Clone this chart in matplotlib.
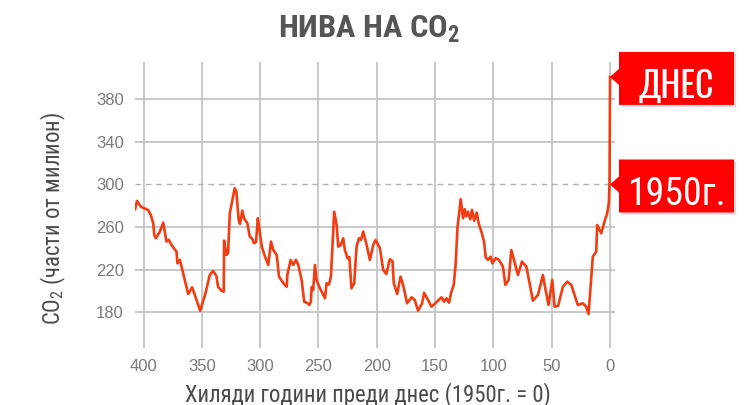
import matplotlib
matplotlib.use("Agg")
import matplotlib.pyplot as plt
import matplotlib.patches as mpatches
import matplotlib.transforms as mtransforms
import matplotlib.font_manager as fm
from matplotlib.textpath import TextPath
from matplotlib.font_manager import FontProperties

# ---- data (thousand years before 1950, CO2 ppm) ----
age_kyr = [407.2, 405.6, 402.2, 396.0, 393.7, 391.7, 390.8, 389.4, 386.0, 383.1,
           380.3, 378.3, 376.5, 374.6, 371.7, 370.9, 368.8, 366.0, 361.7, 358.3,
           356.0, 351.4, 346.9, 343.2, 340.3, 337.5, 336.1, 333.2, 331.2, 330.9,
           328.9, 327.5, 326.0, 321.8, 320.4, 318.4, 317.3, 315.3, 313.8, 311.0,
           308.9, 307.0, 305.2, 303.5, 302.0, 300.6, 298.6, 295.8, 293.0, 290.7,
           288.7, 285.8, 283.8, 280.1, 277.2, 276.7, 273.8, 271.6, 269.3, 267.3,
           264.4, 262.2, 259.2, 257.9, 256.5, 255.8, 254.5, 253.0, 251.6, 248.7,
           244.4, 243.0, 241.0, 239.3, 236.5, 234.4, 233.0, 231.0, 228.8, 227.3,
           225.0, 223.5, 221.7, 219.3, 217.3, 215.3, 213.5, 211.6, 208.7, 205.9,
           203.0, 201.0, 197.3, 194.5, 191.8, 188.8, 186.5, 185.4, 182.5, 179.6,
           177.4, 174.0, 170.2, 167.4, 164.6, 161.1, 159.4, 156.0, 153.1, 149.7,
           144.5, 142.3, 140.2, 138.0, 136.0, 134.0, 132.3, 130.8, 128.0, 126.0,
           124.6, 123.3, 121.7, 119.8, 118.3, 116.5, 114.3, 112.6, 110.3, 108.0,
           106.6, 104.6, 102.3, 100.9, 98.0, 95.2, 91.8, 89.7, 86.9, 84.6,
           83.5, 80.4, 78.9, 75.5, 71.7, 66.1, 61.8, 57.5, 55.5, 52.7,
           49.5, 47.5, 44.5, 40.4, 36.6, 33.2, 27.6, 23.3, 20.4, 18.4,
           14.7, 11.8, 11.0, 7.5, 4.7, 2.4, 1.0, 0.4, -0.07]
co2_ppm = [276.8, 284.6, 279.0, 276.0, 271.4, 263.6, 252.6, 249.5, 255.8, 264.2,
           246.4, 248.0, 244.2, 241.1, 237.0, 226.0, 229.2, 216.7, 197.2, 203.5,
           196.3, 181.5, 197.8, 215.0, 218.8, 214.1, 204.0, 200.3, 199.4, 247.3,
           233.9, 235.5, 273.0, 296.5, 293.4, 266.7, 263.0, 275.5, 268.3, 263.6,
           251.0, 249.5, 244.8, 246.0, 268.3, 258.0, 241.7, 232.3, 224.5, 246.4,
           238.5, 233.9, 213.5, 207.3, 204.0, 215.0, 229.2, 224.5, 229.2, 224.5,
           210.4, 190.0, 188.5, 186.9, 190.0, 203.6, 201.0, 224.5, 210.4, 202.5,
           193.2, 207.3, 206.0, 213.5, 274.5, 262.0, 241.7, 243.0, 249.5, 238.5,
           230.8, 232.0, 202.5, 207.3, 241.7, 249.5, 248.0, 255.8, 243.3, 229.2,
           243.3, 248.0, 240.2, 219.8, 216.0, 229.8, 228.0, 207.3, 197.2, 213.5,
           205.7, 188.5, 194.1, 191.6, 181.5, 188.5, 198.4, 191.6, 185.3, 188.5,
           194.1, 190.0, 193.2, 189.0, 199.4, 205.7, 226.0, 259.0, 286.2, 268.3,
           276.8, 270.0, 274.5, 267.4, 276.2, 266.0, 273.6, 263.6, 255.8, 246.4,
           231.7, 229.2, 232.3, 226.0, 230.8, 229.2, 222.9, 205.7, 210.4, 238.5,
           234.0, 221.4, 215.0, 227.6, 222.9, 190.9, 196.3, 215.0, 202.5, 186.9,
           210.4, 185.3, 186.0, 204.0, 208.8, 205.7, 186.9, 188.5, 185.3, 178.4,
           232.3, 237.0, 262.0, 254.2, 265.2, 273.0, 282.4, 301.0, 401.0]

x_ticks = [400, 350, 300, 250, 200, 150, 100, 50, 0]
y_ticks = [180, 220, 260, 340, 380]
ref_level = 300
callout_labels = ["ДНЕС", "1950г."]
callout_values = [401.0, 300.0]

title = "НИВА НА CO$_\\mathregular{2}$"
ylabel = "CO$_\\mathregular{2}$ (части от милион)"
xlabel = "Хиляди години преди днес (1950г. = 0)"

# ---- fonts ----
available = {f.name for f in fm.fontManager.ttflist}


def pick(cands, default="DejaVu Sans"):
    for c in cands:
        if c in available:
            return c
    return default


cond = pick(["Roboto Condensed", "PT Sans Narrow", "Oswald", "Fira Sans Condensed"])
tall = pick(["Oswald", "PT Sans Narrow", "Roboto Condensed"])
NARROW = [cond, "DejaVu Sans"]
TALL = [tall, cond, "DejaVu Sans"]
PLAIN = ["Liberation Sans", "DejaVu Sans"]


def size_for_cap(px, family, weight="normal", ch="H"):
    tp = TextPath((0, 0), ch, size=100, prop=FontProperties(family=family, weight=weight))
    frac = tp.get_extents().y1 / 100.0
    return px / frac * 72.0 / 100.0


def size_for_width(px, text, family, weight="normal"):
    tp = TextPath((0, 0), text, size=100, prop=FontProperties(family=family, weight=weight))
    ext = tp.get_extents()
    return px / (ext.width / 100.0) * 72.0 / 100.0


W, H = 750, 405
fig = plt.figure(figsize=(W / 100, H / 100), dpi=100)
ax = fig.add_axes([135 / W, 1 - 348 / H, 480 / W, 286 / H])
ax.set_xlim(407.3, -4.3)
ax.set_ylim(146.5, 415)

grid_c = "#c4c4c4"
for xt in x_ticks:
    ax.axvline(xt, color=grid_c, lw=1.3, zorder=1)
for yt in y_ticks:
    ax.axhline(yt, color=grid_c, lw=1.3, zorder=1)
ax.axhline(ref_level, color="#b0b0b0", lw=1.0, ls=(0, (4, 3.5)), zorder=1)

ax.plot(age_kyr, co2_ppm, color="#f23c12", lw=1.9, zorder=3, solid_joinstyle="round")

for s in ax.spines.values():
    s.set_visible(False)
ax.set_xticks(x_ticks)
ax.set_xticklabels([str(v) for v in x_ticks], family=PLAIN, fontsize=12, color="#7a7a7a")
yt_all = y_ticks + [ref_level]
ax.set_yticks(yt_all)
ax.set_yticklabels([str(v) for v in yt_all], family=PLAIN, fontsize=12, color="#7a7a7a")
ax.tick_params(length=0)
ax.tick_params(axis="x", pad=8)
ax.tick_params(axis="y", pad=8)
ax.set_facecolor("none")

fig.text(369 / W, 1 - 38 / H, title, ha="center", va="baseline", family=NARROW,
         fontsize=size_for_cap(23, NARROW, "bold"), fontweight="bold", color="#555555")
lab_size = size_for_width(370, xlabel, NARROW) * 0.985
fig.text(53 / W, 1 - 219 / H, ylabel, ha="center", va="center", rotation=90,
         family=NARROW, fontsize=lab_size, color="#4a4a4a")
fig.text(368 / W, 1 - 401 / H, xlabel, ha="center", va="baseline",
         family=NARROW, fontsize=lab_size, color="#4a4a4a")

# ---- callouts ----
fig.canvas.draw()
ident = mtransforms.IdentityTransform()
callout_fonts = [TALL, NARROW]
box_width_px = [74, 93]
for label, val, fam, wpx in zip(callout_labels, callout_values, callout_fonts, box_width_px):
    tx, ty = ax.transData.transform((0, val))
    bx0, bx1 = tx + 9, tx + 124
    by0, by1 = ty - 28, ty + 25
    verts = [(tx, ty), (bx0, ty + 8), (bx0, by1), (bx1, by1), (bx1, by0), (bx0, by0), (bx0, ty - 8)]
    shadow = mpatches.Polygon([(x + 2, y - 2) for x, y in verts], closed=True,
                              facecolor="#000000", alpha=0.15, edgecolor="none", transform=ident)
    fig.add_artist(shadow)
    poly = mpatches.Polygon(verts, closed=True, facecolor="#fe0000", edgecolor="none", transform=ident)
    fig.add_artist(poly)
    fs = min(size_for_width(wpx, label, fam), size_for_cap(29, fam))
    fig.text((bx0 + bx1) / 2 / W, (ty - 21) / H, label, ha="center", va="baseline",
             family=fam, fontsize=fs, color="white")

fig.savefig("out.png", dpi=100)
